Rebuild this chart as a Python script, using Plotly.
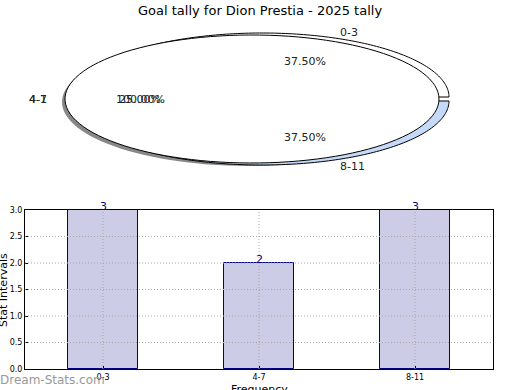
import numpy as np
import plotly.graph_objects as go

# ---- data ----
categories = ["0-3", "4-7", "8-11"]
values = [3, 2, 3]
y_ticks = [0.0, 0.5, 1.0, 1.5, 2.0, 2.5, 3.0]
title = "Goal tally for Dion Prestia - 2025 tally"

W, H = 520, 390
def px(x):
    return x / W
def py(y):
    return 1 - y / H

total = sum(values)
pcts = [v / total * 100 for v in values]

fig = go.Figure()

# ---- bar chart ----
fig.add_trace(go.Bar(
    x=categories, y=values, width=0.45,
    marker=dict(color="#CCCCE6", line=dict(color="#000080", width=1)),
    showlegend=False, hoverinfo="x+y"))

fig.update_xaxes(domain=[px(25), px(493)], range=[-0.5, 2.5],
                 showline=True, mirror=True, linecolor="black", linewidth=1,
                 ticks="inside", ticklen=3, tickcolor="black",
                 tickfont=dict(size=8, family="DejaVu Sans", color="black"),
                 automargin=False, zeroline=False, showgrid=False,
                 layer="above traces")
fig.update_yaxes(domain=[1 - 369 / H, 1 - 210 / H], range=[0, 3],
                 tickvals=y_ticks, tickformat=".1f",
                 showline=True, mirror=True, linecolor="black", linewidth=1,
                 ticks="inside", ticklen=3, tickcolor="black",
                 tickfont=dict(size=8, family="DejaVu Sans", color="black"),
                 automargin=False, zeroline=False, showgrid=False,
                 layer="above traces")

shapes = []
# dotted grid drawn above the bars (as in the reference)
gridline = dict(color="#A8A8A8", width=1, dash="1px,2px")
for t in y_ticks[1:-1]:
    shapes.append(dict(type="line", xref="x domain", yref="y", x0=0, x1=1,
                       y0=t, y1=t, line=gridline, layer="above"))
for c in categories:
    shapes.append(dict(type="line", xref="x", yref="y domain", x0=c, x1=c,
                       y0=0, y1=1, line=gridline, layer="above"))

# ---- pseudo-3D pie (elliptical) ----
cx, cy, rx, ry = 252, 99, 187, 64

def ellipse_path(x0, y0, a0, a1, wedge=True, n=120):
    t = np.radians(np.linspace(a0, a1, n))
    xs = x0 + rx * np.cos(t)
    ys = y0 - ry * np.sin(t)
    pts = [(px(x), py(y)) for x, y in zip(xs, ys)]
    if wedge:
        pts = [(px(x0), py(y0))] + pts
    d = "M " + " L ".join(f"{a:.5f},{b:.5f}" for a, b in pts) + " Z"
    return d

# shadow
shapes.append(dict(type="path", xref="paper", yref="paper",
                   path=ellipse_path(cx - 3, cy + 3, 0, 360, wedge=False),
                   fillcolor="#888888", line=dict(width=0)))
# slice 0-3 (exploded up-right)
ang0 = pcts[0] / 100 * 360
shapes.append(dict(type="path", xref="paper", yref="paper",
                   path=ellipse_path(cx + 10, cy - 2, 0, ang0),
                   fillcolor="white", line=dict(color="black", width=1)))
# slice 8-11 (exploded down-right)
ang2 = pcts[2] / 100 * 360
shapes.append(dict(type="path", xref="paper", yref="paper",
                   path=ellipse_path(cx + 10, cy + 2, -ang2, 0),
                   fillcolor="#C5D9F8", line=dict(color="black", width=1)))
# main disc
shapes.append(dict(type="path", xref="paper", yref="paper",
                   path=ellipse_path(cx, cy, 0, 360, wedge=False),
                   fillcolor="white", line=dict(color="black", width=1)))
fig.update_layout(shapes=shapes)

ann = []
def label(text, x, y, size=11, color="#222222", **kw):
    d = dict(text=text, x=px(x), y=py(y), xref="paper", yref="paper",
             xanchor="center", yanchor="middle",
             showarrow=False, font=dict(size=size, family="DejaVu Sans", color=color))
    d.update(kw)
    ann.append(d)

label(title, 260, 10, size=13, color="black")
label(categories[0], 349, 32)
label(f"{pcts[0]:.2f}%", 305, 61)
label(categories[1], 38, 100)
label("4-1", 38, 100)
label(f"{pcts[1]:.2f}%", 140, 100)
label("100.00%", 140, 100)
label(f"{pcts[2]:.2f}%", 305, 137)
label(categories[2], 352, 166)

label("Stat Intervals", 3, 290, size=11, color="black", textangle=-90)
label("Frequency", 259, 389, size=11, color="black")
label("Dream-Stats.com", 52, 380, size=12, color="#999999")

# bar value labels
for c, v in zip(categories, values):
    ann.append(dict(text=str(v), x=c, y=v, xref="x", yref="y",
                    xanchor="center", yanchor="middle", yshift=4,
                    showarrow=False,
                    font=dict(size=11, family="DejaVu Sans", color="#000080")))

fig.update_layout(annotations=ann, width=W, height=H,
                  margin=dict(l=0, r=0, t=0, b=0),
                  paper_bgcolor="white", plot_bgcolor="white",
                  bargap=0, showlegend=False)

fig.write_html("out.html", config={"displayModeBar": False},
               post_script="document.body.style.margin='0';document.body.style.overflow='hidden';")
